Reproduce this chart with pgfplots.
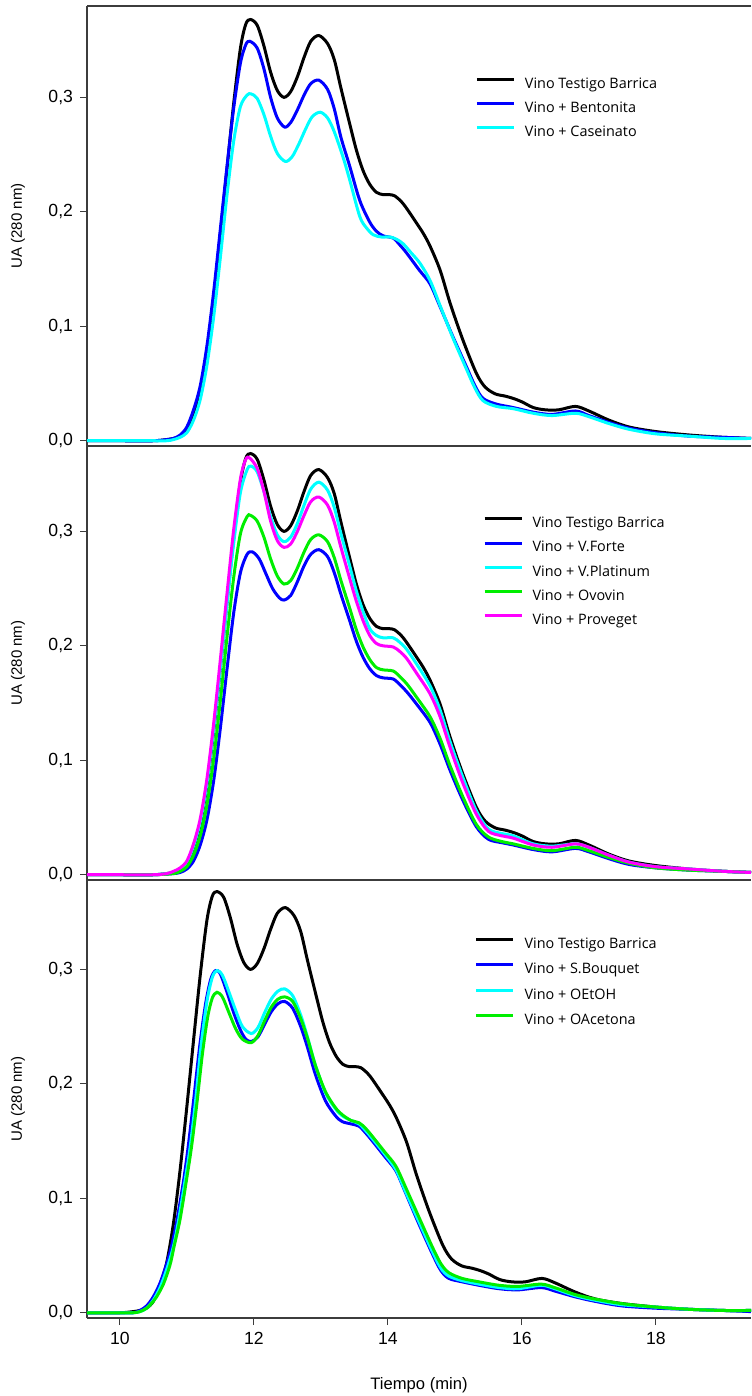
\documentclass[border=0pt]{standalone}
\usepackage{pgfplots}
\pgfplotsset{compat=1.18}
\usepackage{pgfplotstable}
\usepackage{fontspec}
\setmainfont{Liberation Sans}
\newfontfamily\legfont{Open Sans}
\definecolor{axisgray}{HTML}{3C3C3C}
\definecolor{cyn}{RGB}{0,255,255}
\definecolor{grn}{RGB}{0,238,0}
\definecolor{mag}{RGB}{255,0,255}
\definecolor{blu}{RGB}{0,0,255}

% Vino Testigo Barrica (paneles 1 y 2)
\pgfplotstableread{
t v
9.51 0.000
10.0 0.000
10.5 0.000
10.7 0.001
10.8 0.002
10.9 0.004
11.0 0.010
11.1 0.024
11.2 0.044
11.3 0.078
11.4 0.125
11.5 0.180
11.6 0.238
11.7 0.295
11.8 0.343
11.88 0.364
11.95 0.368
12.05 0.363
12.15 0.345
12.25 0.322
12.35 0.306
12.45 0.300
12.55 0.305
12.65 0.318
12.75 0.335
12.85 0.349
12.97 0.354
13.1 0.347
13.2 0.333
13.3 0.308
13.43 0.277
13.53 0.254
13.63 0.236
13.73 0.224
13.83 0.217
13.93 0.215
14.02 0.215
14.1 0.214
14.2 0.209
14.28 0.203
14.43 0.190
14.53 0.181
14.63 0.170
14.78 0.149
14.93 0.120
15.12 0.088
15.32 0.059
15.45 0.047
15.6 0.041
15.75 0.039
15.87 0.037
16.0 0.034
16.17 0.029
16.35 0.027
16.55 0.027
16.8 0.030
17.0 0.026
17.3 0.018
17.6 0.012
18.0 0.008
18.5 0.005
19.0 0.003
19.42 0.002
}\barrica

% Vino + Bentonita
\pgfplotstableread{
t v
9.51 0.000
10.0 0.000
10.5 0.000
10.7 0.001
10.8 0.002
10.9 0.005
11.0 0.012
11.1 0.027
11.2 0.048
11.3 0.083
11.4 0.130
11.5 0.185
11.6 0.240
11.7 0.291
11.8 0.330
11.88 0.346
11.94 0.349
12.05 0.343
12.15 0.325
12.25 0.300
12.35 0.282
12.46 0.274
12.55 0.278
12.65 0.289
12.75 0.302
12.85 0.312
12.97 0.315
13.1 0.307
13.2 0.290
13.3 0.265
13.43 0.240
13.58 0.210
13.73 0.191
13.83 0.183
13.93 0.179
14.08 0.177
14.18 0.171
14.28 0.164
14.47 0.149
14.63 0.137
14.78 0.117
14.97 0.091
15.17 0.065
15.3 0.048
15.42 0.037
15.62 0.032
15.87 0.029
16.17 0.025
16.45 0.023
16.8 0.026
17.0 0.022
17.3 0.016
17.6 0.011
18.0 0.007
18.5 0.004
19.0 0.003
19.42 0.002
}\bentonita

% Vino + Caseinato
\pgfplotstableread{
t v
9.51 0.000
10.0 0.000
10.5 0.000
10.7 0.000
10.8 0.001
10.9 0.003
11.0 0.007
11.1 0.018
11.2 0.036
11.3 0.066
11.4 0.108
11.5 0.160
11.6 0.215
11.7 0.262
11.8 0.292
11.9 0.302
11.96 0.303
12.05 0.299
12.15 0.285
12.25 0.266
12.35 0.251
12.47 0.244
12.57 0.248
12.67 0.259
12.77 0.272
12.87 0.283
12.99 0.287
13.1 0.282
13.2 0.270
13.33 0.248
13.43 0.228
13.58 0.196
13.68 0.186
13.78 0.180
13.9 0.178
14.03 0.178
14.13 0.176
14.23 0.172
14.35 0.164
14.48 0.155
14.63 0.140
14.78 0.118
14.97 0.090
15.17 0.063
15.3 0.046
15.42 0.035
15.62 0.030
15.87 0.028
16.17 0.024
16.45 0.022
16.8 0.024
17.0 0.021
17.3 0.015
17.6 0.010
18.0 0.006
18.5 0.004
19.0 0.002
19.42 0.002
}\caseinato

% Vino + V.Forte
\pgfplotstableread{
t v
9.51 0.000
10.0 0.000
10.5 0.000
10.8 0.001
10.9 0.002
11.0 0.005
11.1 0.012
11.2 0.026
11.3 0.048
11.4 0.082
11.5 0.128
11.6 0.180
11.7 0.229
11.8 0.264
11.9 0.280
11.98 0.282
12.08 0.276
12.18 0.263
12.28 0.250
12.38 0.242
12.45 0.240
12.55 0.244
12.65 0.256
12.75 0.270
12.85 0.280
12.97 0.284
13.1 0.278
13.2 0.264
13.3 0.245
13.43 0.222
13.53 0.204
13.63 0.190
13.73 0.180
13.83 0.174
13.93 0.172
14.08 0.171
14.18 0.166
14.28 0.160
14.43 0.149
14.63 0.133
14.78 0.114
14.93 0.091
15.12 0.065
15.32 0.042
15.5 0.031
15.7 0.028
15.87 0.026
16.17 0.022
16.45 0.020
16.8 0.023
17.0 0.020
17.3 0.014
17.6 0.009
18.0 0.006
18.5 0.004
19.0 0.003
19.42 0.002
}\vforte

% Vino + V.Platinum
\pgfplotstableread{
t v
9.51 0.000
10.0 0.000
10.5 0.000
10.8 0.002
10.9 0.005
11.0 0.011
11.1 0.025
11.2 0.046
11.3 0.080
11.4 0.127
11.5 0.181
11.6 0.237
11.7 0.290
11.8 0.334
11.9 0.354
11.96 0.357
12.05 0.352
12.15 0.335
12.25 0.313
12.35 0.297
12.45 0.291
12.55 0.295
12.65 0.307
12.75 0.323
12.85 0.337
12.97 0.343
13.1 0.336
13.2 0.321
13.3 0.298
13.43 0.270
13.53 0.248
13.63 0.230
13.73 0.215
13.83 0.209
13.93 0.207
14.08 0.207
14.18 0.203
14.28 0.197
14.43 0.184
14.63 0.165
14.78 0.144
14.93 0.116
15.12 0.085
15.32 0.056
15.5 0.040
15.7 0.036
15.87 0.034
16.17 0.027
16.45 0.025
16.8 0.027
17.0 0.024
17.3 0.017
17.6 0.011
18.0 0.007
18.5 0.005
19.0 0.003
19.42 0.002
}\vplatinum

% Vino + Ovovin
\pgfplotstableread{
t v
9.51 0.000
10.0 0.000
10.5 0.000
10.8 0.001
10.9 0.003
11.0 0.007
11.1 0.017
11.2 0.034
11.3 0.061
11.4 0.101
11.5 0.152
11.6 0.208
11.7 0.260
11.8 0.298
11.9 0.313
11.95 0.314
12.05 0.309
12.15 0.295
12.25 0.276
12.35 0.261
12.45 0.254
12.55 0.257
12.65 0.268
12.75 0.282
12.85 0.293
12.97 0.297
13.1 0.291
13.2 0.277
13.3 0.257
13.43 0.233
13.53 0.214
13.63 0.199
13.73 0.188
13.83 0.181
13.93 0.179
14.08 0.178
14.18 0.173
14.28 0.167
14.43 0.155
14.63 0.138
14.78 0.119
14.93 0.095
15.12 0.068
15.32 0.044
15.5 0.033
15.7 0.029
15.87 0.027
16.17 0.023
16.45 0.021
16.8 0.024
17.0 0.021
17.3 0.015
17.6 0.010
18.0 0.006
18.5 0.004
19.0 0.003
19.42 0.002
}\ovovin

% Vino + Proveget
\pgfplotstableread{
t v
9.51 0.000
10.0 0.000
10.5 0.000
10.7 0.001
10.8 0.003
10.9 0.006
11.0 0.012
11.1 0.027
11.2 0.049
11.3 0.084
11.4 0.132
11.5 0.188
11.6 0.246
11.7 0.302
11.8 0.346
11.88 0.363
11.94 0.364
12.05 0.355
12.15 0.335
12.25 0.309
12.35 0.292
12.45 0.286
12.55 0.289
12.65 0.300
12.75 0.314
12.85 0.326
12.97 0.330
13.1 0.323
13.2 0.308
13.3 0.286
13.43 0.259
13.53 0.239
13.63 0.222
13.73 0.209
13.83 0.202
13.93 0.200
14.08 0.199
14.18 0.195
14.28 0.189
14.43 0.176
14.63 0.158
14.78 0.138
14.93 0.111
15.12 0.080
15.32 0.053
15.5 0.038
15.7 0.034
15.87 0.032
16.17 0.026
16.45 0.024
16.8 0.027
17.0 0.024
17.3 0.017
17.6 0.011
18.0 0.007
18.5 0.005
19.0 0.003
19.42 0.002
}\proveget

% Vino Testigo Barrica (panel 3)
\pgfplotstableread{
t v
9.51 0.000
10.0 0.000
10.2 0.001
10.3 0.002
10.4 0.004
10.5 0.010
10.6 0.024
10.7 0.044
10.8 0.078
10.9 0.125
11.0 0.180
11.1 0.238
11.2 0.295
11.3 0.343
11.38 0.364
11.45 0.368
11.55 0.363
11.65 0.345
11.75 0.322
11.85 0.306
11.95 0.300
12.05 0.305
12.15 0.318
12.25 0.335
12.35 0.349
12.47 0.354
12.6 0.347
12.7 0.333
12.8 0.308
12.93 0.277
13.03 0.254
13.13 0.236
13.23 0.224
13.33 0.217
13.43 0.215
13.52 0.215
13.6 0.214
13.7 0.209
13.78 0.203
13.93 0.190
14.03 0.181
14.13 0.170
14.28 0.149
14.43 0.120
14.62 0.088
14.82 0.059
14.95 0.047
15.1 0.041
15.25 0.039
15.37 0.037
15.5 0.034
15.67 0.029
15.85 0.027
16.05 0.027
16.3 0.030
16.5 0.026
16.8 0.018
17.1 0.012
17.5 0.008
18.0 0.005
18.5 0.003
19.0 0.002
19.42 0.002
}\barricab

% Vino + S.Bouquet
\pgfplotstableread{
t v
9.51 0.000
10.0 0.000
10.2 0.000
10.3 0.002
10.4 0.006
10.5 0.014
10.6 0.026
10.7 0.043
10.77 0.058
10.85 0.080
10.95 0.115
11.02 0.145
11.1 0.185
11.19 0.232
11.28 0.270
11.36 0.292
11.43 0.299
11.5 0.296
11.6 0.280
11.7 0.262
11.8 0.247
11.88 0.239
11.96 0.237
12.06 0.241
12.16 0.252
12.26 0.263
12.36 0.270
12.46 0.272
12.58 0.266
12.7 0.250
12.8 0.232
12.92 0.208
13.07 0.185
13.22 0.172
13.32 0.167
13.45 0.165
13.57 0.163
13.67 0.157
13.77 0.150
13.96 0.136
14.12 0.124
14.27 0.104
14.46 0.078
14.66 0.052
14.79 0.037
14.91 0.030
15.11 0.027
15.36 0.024
15.66 0.021
15.94 0.020
16.29 0.022
16.49 0.019
16.79 0.014
17.09 0.010
17.49 0.006
17.99 0.004
18.5 0.003
19.0 0.002
19.42 0.001
}\sbouquet

% Vino + OEtOH
\pgfplotstableread{
t v
9.51 0.000
10.0 0.000
10.2 0.000
10.3 0.001
10.4 0.004
10.5 0.011
10.6 0.022
10.7 0.038
10.8 0.058
10.88 0.082
10.98 0.118
11.05 0.145
11.13 0.185
11.21 0.232
11.3 0.272
11.38 0.293
11.45 0.299
11.53 0.295
11.63 0.280
11.73 0.264
11.83 0.250
11.96 0.244
12.06 0.249
12.16 0.262
12.26 0.274
12.36 0.281
12.46 0.283
12.58 0.277
12.7 0.260
12.8 0.241
12.92 0.216
13.07 0.192
13.22 0.178
13.32 0.172
13.45 0.168
13.57 0.165
13.67 0.159
13.77 0.152
13.96 0.138
14.12 0.125
14.27 0.105
14.46 0.080
14.66 0.054
14.79 0.039
14.91 0.032
15.11 0.028
15.36 0.025
15.66 0.022
15.94 0.021
16.29 0.024
16.49 0.021
16.79 0.015
17.09 0.011
17.49 0.007
17.99 0.005
18.5 0.003
19.0 0.002
19.42 0.002
}\oetoh

% Vino + OAcetona
\pgfplotstableread{
t v
9.51 0.000
10.0 0.000
10.2 0.000
10.3 0.001
10.4 0.004
10.5 0.010
10.55 0.014
10.65 0.025
10.75 0.042
10.81 0.058
10.9 0.082
11.0 0.118
11.07 0.145
11.15 0.183
11.23 0.225
11.31 0.258
11.38 0.275
11.45 0.280
11.53 0.276
11.63 0.262
11.73 0.248
11.83 0.239
11.96 0.236
12.06 0.242
12.16 0.255
12.26 0.267
12.36 0.274
12.46 0.276
12.58 0.272
12.7 0.257
12.8 0.240
12.92 0.216
13.07 0.193
13.22 0.179
13.32 0.173
13.45 0.168
13.57 0.166
13.67 0.161
13.77 0.154
13.96 0.140
14.12 0.128
14.27 0.109
14.46 0.084
14.66 0.058
14.79 0.043
14.91 0.035
15.11 0.030
15.36 0.027
15.66 0.024
15.94 0.023
16.29 0.025
16.49 0.022
16.79 0.016
17.09 0.012
17.49 0.008
17.99 0.005
18.5 0.003
19.0 0.002
19.42 0.002
}\oacetona

\pgfplotsset{
  panel/.style={
    scale only axis,
    width=332pt,
    xmin=9.51, xmax=19.42,
    ymin=-0.0046,
    axis x line*=box,
    axis y line*=left,
    axis line style={line width=0.6pt, draw=axisgray},
    tick align=outside,
    major tick length=3.5pt,
    tick style={line width=0.6pt, draw=axisgray},
    ytick={0,0.1,0.2,0.3},
    ytick pos=left,
    yticklabel style={font=\fontsize{8.8}{10}\selectfont,
      /pgf/number format/.cd, fixed, fixed zerofill, precision=1, use comma, assume math mode=true},
    xticklabel style={font=\fontsize{8.8}{10}\selectfont,
      /pgf/number format/assume math mode=true},
    ylabel={UA (280 nm)},
    ylabel style={font=\fontsize{7.5}{9}\selectfont, at={(axis description cs:-0.1039,0.5)}, anchor=center},
    clip=true,
    legend style={draw=none, fill=none, inner sep=0pt, outer sep=0pt,
      font=\legfont\fontsize{7.2}{8}\selectfont,
      nodes={inner sep=0pt, text height=5.5pt, text depth=1.5pt},
      /tikz/every odd column/.append style={column sep=4.8pt}},
    legend cell align=left,
    legend image code/.code={\draw[##1] (0pt,2.4pt) -- (18.5pt,2.4pt);},
    every axis plot/.append style={line width=1.5pt, smooth, no markers},
  }
}

\begin{document}
\begin{tikzpicture}

\begin{axis}[panel, at={(43.5pt,-223pt)}, anchor=south west, height=220pt,
  ymax=0.3798, xtick=\empty,
  legend style={at={(axis description cs:0.5849,0.8375)}, anchor=north west, row sep=5.07pt}]
\addplot[black] table[x=t, y=v] {\barrica};
\addlegendentry{Vino Testigo Barrica}
\addplot[blu] table[x=t, y=v] {\bentonita};
\addlegendentry{Vino + Bentonita}
\addplot[cyn] table[x=t, y=v] {\caseinato};
\addlegendentry{Vino + Caseinato}
\end{axis}

\begin{axis}[panel, at={(43.5pt,-440pt)}, anchor=south west, height=217pt,
  ymax=0.3746, xtick=\empty,
  legend style={at={(axis description cs:0.5964,0.8369)}, anchor=north west, row sep=5.07pt}]
\addplot[black] table[x=t, y=v] {\barrica};
\addlegendentry{Vino Testigo Barrica}
\addplot[blu] table[x=t, y=v] {\vforte};
\addlegendentry{Vino + V.Forte}
\addplot[cyn] table[x=t, y=v] {\vplatinum};
\addlegendentry{Vino + V.Platinum}
\addplot[grn] table[x=t, y=v] {\ovovin};
\addlegendentry{Vino + Ovovin}
\addplot[mag] table[x=t, y=v] {\proveget};
\addlegendentry{Vino + Proveget}
\end{axis}

\begin{axis}[panel, at={(43.5pt,-659pt)}, anchor=south west, height=219pt,
  ymax=0.3781, xtick={10,12,14,16,18}, xtick pos=bottom,
  xlabel={Tiempo (min)},
  xlabel style={font=\fontsize{8.3}{10}\selectfont, at={(axis description cs:0.5,-0.153)}, anchor=center},
  legend style={at={(axis description cs:0.5843,0.8698)}, anchor=north west, row sep=5.77pt}]
\addplot[black] table[x=t, y=v] {\barricab};
\addlegendentry{Vino Testigo Barrica}
\addplot[blu] table[x=t, y=v] {\sbouquet};
\addlegendentry{Vino + S.Bouquet}
\addplot[cyn] table[x=t, y=v] {\oetoh};
\addlegendentry{Vino + OEtOH}
\addplot[grn] table[x=t, y=v] {\oacetona};
\addlegendentry{Vino + OAcetona}
\end{axis}

\pgfresetboundingbox
\path[use as bounding box] (0pt,0pt) rectangle (375.5pt,-698pt);
\end{tikzpicture}
\end{document}
